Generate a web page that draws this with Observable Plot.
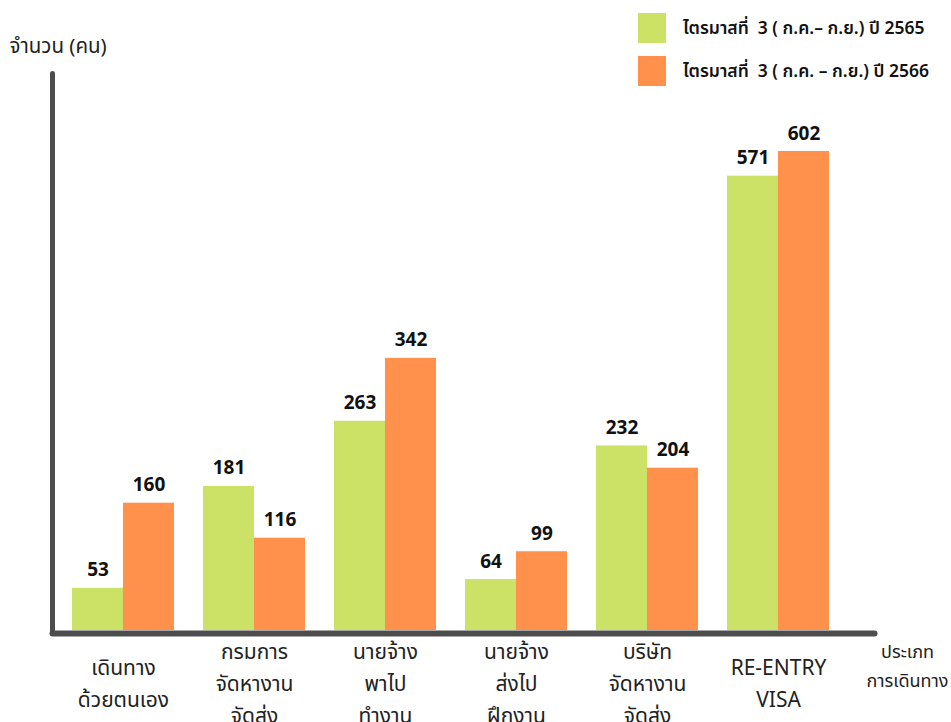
<!DOCTYPE html>
<html>
<head>
<meta charset="utf-8">
<script src="https://cdn.jsdelivr.net/npm/d3@7"></script>
<script src="https://cdn.jsdelivr.net/npm/@observablehq/plot@0.6"></script>
<style>
  html, body { margin: 0; padding: 0; background: #fff; }
  body { width: 951px; height: 722px; position: relative; overflow: hidden;
         font-family: "Noto Sans Thai", "Noto Sans", "DejaVu Sans", sans-serif; }
  #legend { position: absolute; left: 638px; top: 13px; }
  .item { display: flex; align-items: center; height: 30px; margin-bottom: 13px; }
  .sw { width: 28px; height: 30px; margin-right: 17px; }
  .lab { font-size: 17.5px; font-weight: 600; color: #111; white-space: pre; }
  #chart { position: absolute; left: 0; top: 0; }
</style>
</head>
<body>
<div id="chart"></div>
<div id="legend"></div>
<script>
const categories = ["เดินทาง\nด้วยตนเอง", "กรมการ\nจัดหางาน\nจัดส่ง", "นายจ้าง\nพาไป\nทำงาน", "นายจ้าง\nส่งไป\nฝึกงาน", "บริษัท\nจัดหางาน\nจัดส่ง", "RE-ENTRY\nVISA"];
const series = ["ไตรมาสที่  3 ( ก.ค.– ก.ย.) ปี 2565", "ไตรมาสที่  3 ( ก.ค. – ก.ย.) ปี 2566"];
const values2565 = [53, 181, 263, 64, 232, 571];
const values2566 = [160, 116, 342, 99, 204, 602];
const colors = ["#cbe266", "#ff914d"];
const yLabel = "จำนวน (คน)";
const xLabel = "ประเภท\nการเดินทาง";

const rows = categories.flatMap((c, i) => [
  {cat: c, series: series[0], value: values2565[i], idx: 0},
  {cat: c, series: series[1], value: values2566[i], idx: 1}
]);

const W = 951, H = 722;
const paddingInner = 0.222;
const xScale = {domain: categories, range: [72, 829], paddingInner, paddingOuter: 0};
const step = (829 - 72) / (categories.length - paddingInner);
const bw = step * (1 - paddingInner);
const half = bw / 2;

const font = "'Noto Sans Thai', 'Noto Sans', 'DejaVu Sans', sans-serif";

const plot = Plot.plot({
  width: W,
  height: H,
  marginLeft: 52,
  marginRight: 77,
  marginTop: 73,
  marginBottom: 89,
  style: {fontFamily: font, background: "#fff", overflow: "visible"},
  x: {...xScale, axis: null},
  y: {domain: [0, 602], range: [630, 151], axis: null},
  color: {domain: series, range: colors},
  marks: [
    Plot.barY(rows.filter(d => d.idx === 0), {x: "cat", y: "value", fill: "series", insetRight: half}),
    Plot.barY(rows.filter(d => d.idx === 1), {x: "cat", y: "value", fill: "series", insetLeft: half}),
    Plot.text(rows.filter(d => d.idx === 0), {x: "cat", y: "value", text: d => String(d.value), dx: -half / 2, dy: -12, lineAnchor: "bottom", fontSize: 19, fontWeight: "bold", fill: "#111"}),
    Plot.text(rows.filter(d => d.idx === 1), {x: "cat", y: "value", text: d => String(d.value), dx: half / 2, dy: -12, lineAnchor: "bottom", fontSize: 19, fontWeight: "bold", fill: "#111"}),
    Plot.text(categories, {x: d => d, text: d => d, frameAnchor: "bottom", dy: 47, lineAnchor: "middle", lineHeight: 1.52, fontSize: 21, fill: "#222"}),
    Plot.text([xLabel], {text: d => d, frameAnchor: "bottom-right", dx: 33, dy: 30, lineAnchor: "middle", textAnchor: "middle", lineHeight: 1.6, fontSize: 18, fill: "#222"}),
    Plot.text([yLabel], {text: d => d, frameAnchor: "top-left", dx: -43, dy: -27, lineAnchor: "middle", textAnchor: "start", fontSize: 20.5, fill: "#222"}),
    Plot.frame({anchor: "left", stroke: "#4d4d4d", strokeWidth: 5, strokeLinecap: "round"}),
    Plot.frame({anchor: "bottom", stroke: "#4d4d4d", strokeWidth: 6, strokeLinecap: "round"})
  ]
});
document.getElementById("chart").appendChild(plot);

const legend = document.getElementById("legend");
series.forEach((s, i) => {
  const item = document.createElement("div");
  item.className = "item";
  const sw = document.createElement("div");
  sw.className = "sw";
  sw.style.background = colors[i];
  const lab = document.createElement("div");
  lab.className = "lab";
  lab.textContent = s;
  item.appendChild(sw);
  item.appendChild(lab);
  legend.appendChild(item);
});
</script>
</body>
</html>
